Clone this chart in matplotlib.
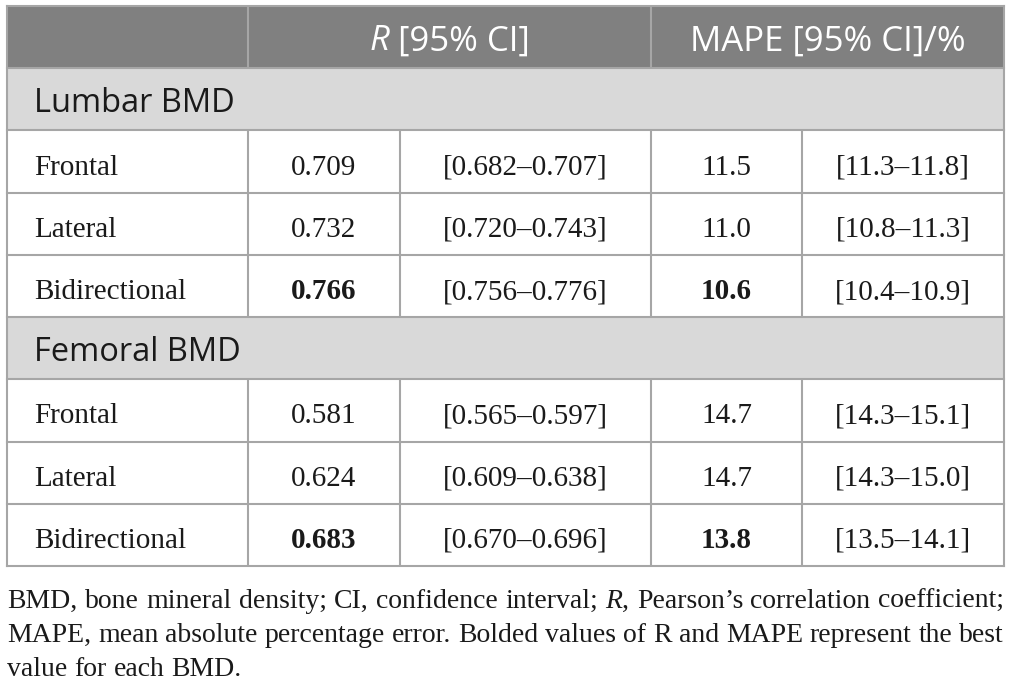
import matplotlib
matplotlib.use("Agg")
import matplotlib.pyplot as plt
from matplotlib.patches import Rectangle

# table content
sections = ["Lumbar BMD", "Femoral BMD"]
views = ["Frontal", "Lateral", "Bidirectional"]
r_vals = [[0.709, 0.732, 0.766], [0.581, 0.624, 0.683]]
r_lo = [[0.682, 0.720, 0.756], [0.565, 0.609, 0.670]]
r_hi = [[0.707, 0.743, 0.776], [0.597, 0.638, 0.696]]
mape_vals = [[11.5, 11.0, 10.6], [14.7, 14.7, 13.8]]
mape_lo = [[11.3, 10.8, 10.4], [14.3, 14.3, 13.5]]
mape_hi = [[11.8, 11.3, 10.9], [15.1, 15.0, 14.1]]
header_r = [("R", "italic"), ("[95% CI]", "normal")]
header_mape = "MAPE [95% CI]/%"
caption = [
    "BMD, bone mineral density; CI, confidence interval; *R*, Pearson\u2019s correlation coefficient;",
    "MAPE, mean absolute percentage error. Bolded values of R and MAPE represent the best",
    "value for each BMD.",
]

# layout (pixels)
W, H = 1012, 689
col_x = [7, 248, 400, 651, 802, 1004]
top, row_h = 6, 62.22
n_rows = 1 + len(sections) * (1 + len(views))
line_col = "#a6a6a6"
head_bg = "#808080"
sect_bg = "#d9d9d9"
txt_col = "#1a1a1a"
sans = "Open Sans"
serif = "Liberation Serif"

fig = plt.figure(figsize=(W / 100, H / 100), dpi=100)
ax = fig.add_axes([0, 0, 1, 1])
ax.set_xlim(0, W)
ax.set_ylim(H, 0)
ax.axis("off")
renderer = fig.canvas.get_renderer()


def text_w(s, **kw):
    t = ax.text(0, 0, s, **kw)
    w = t.get_window_extent(renderer).width
    t.remove()
    return w


def space_w(**kw):
    return text_w("a a", **kw) - text_w("aa", **kw)


def row_top(i):
    return top + i * row_h


def baseline(i):
    return row_top(i) + 0.71 * row_h


# header row
ax.add_patch(Rectangle((col_x[0], row_top(0)), col_x[-1] - col_x[0], row_h,
                       facecolor=head_bg, edgecolor="none"))
hkw = dict(family=sans, fontsize=25, color="white", va="baseline")
widths = [text_w(s, style=st, **hkw) for s, st in header_r]
gap = space_w(**hkw)
x = (col_x[1] + col_x[3]) / 2 - (sum(widths) + gap) / 2
for (s, st), w in zip(header_r, widths):
    ax.text(x, baseline(0), s, style=st, ha="left", **hkw)
    x += w + gap
ax.text((col_x[3] + col_x[5]) / 2, baseline(0), header_mape, ha="center", **hkw)

# body rows
dkw = dict(family=serif, fontsize=21, color=txt_col, va="baseline")
r = 1
for s, name in enumerate(sections):
    ax.add_patch(Rectangle((col_x[0], row_top(r)), col_x[-1] - col_x[0], row_h,
                           facecolor=sect_bg, edgecolor="none"))
    ax.text(col_x[0] + 27, baseline(r), name, family=sans, fontsize=23.5,
            color=txt_col, va="baseline", ha="left")
    best_r = max(r_vals[s])
    best_m = min(mape_vals[s])
    r += 1
    for v, view in enumerate(views):
        cells = [
            (f"{r_vals[s][v]:.3f}", r_vals[s][v] == best_r),
            (f"[{r_lo[s][v]:.3f}\u2013{r_hi[s][v]:.3f}]", False),
            (f"{mape_vals[s][v]:.1f}", mape_vals[s][v] == best_m),
            (f"[{mape_lo[s][v]:.1f}\u2013{mape_hi[s][v]:.1f}]", False),
        ]
        ax.text(col_x[0] + 27, baseline(r), view, ha="left", **dkw)
        for c, (label, bold) in enumerate(cells):
            ax.text((col_x[c + 1] + col_x[c + 2]) / 2, baseline(r), label,
                    ha="center", weight="bold" if bold else "normal", **dkw)
        # vertical separators for data rows
        for xv in col_x[1:-1]:
            ax.plot([xv, xv], [row_top(r), row_top(r + 1)], color=line_col, lw=1.5,
                    solid_capstyle="butt")
        r += 1

# header separators
for xv in (col_x[1], col_x[3]):
    ax.plot([xv, xv], [row_top(0), row_top(1)], color=line_col, lw=1.5,
            solid_capstyle="butt")

# horizontal lines and outer border
for i in range(n_rows + 1):
    ax.plot([col_x[0], col_x[-1]], [row_top(i), row_top(i)], color=line_col, lw=1.5,
            solid_capstyle="projecting")
for xv in (col_x[0], col_x[-1]):
    ax.plot([xv, xv], [row_top(0), row_top(n_rows)], color=line_col, lw=1.5,
            solid_capstyle="projecting")


# caption, justified; shrink the font until the long lines fit
def split_words(line, kw):
    words = []
    for tok in line.split(" "):
        parts = tok.split("*")
        segs = [(p, "italic" if k % 2 else "normal") for k, p in enumerate(parts) if p]
        words.append([(p, st, text_w(p, style=st, **kw)) for p, st in segs])
    return words


avail = col_x[-1] - col_x[0]
size = 22.0
while True:
    ckw = dict(family=serif, fontsize=size, color=txt_col, va="baseline", ha="left")
    sp = space_w(**ckw)
    fits = True
    for line in caption[:-1]:
        words = split_words(line, ckw)
        need = sum(sg[2] for wd in words for sg in wd) + 0.9 * sp * (len(words) - 1)
        if need > avail:
            fits = False
    if fits or size < 12:
        break
    size -= 0.25

cap_base = [608, 642, 676]
for li, line in enumerate(caption):
    words = split_words(line, ckw)
    word_w = [sum(sg[2] for sg in wd) for wd in words]
    if li < len(caption) - 1:
        gap = (avail - sum(word_w)) / (len(words) - 1)
    else:
        gap = sp
    x = col_x[0]
    for wd, ww in zip(words, word_w):
        xx = x
        for p, st, w in wd:
            ax.text(xx, cap_base[li], p, style=st, **ckw)
            xx += w
        x += ww + gap

fig.savefig("out.png", dpi=100)
